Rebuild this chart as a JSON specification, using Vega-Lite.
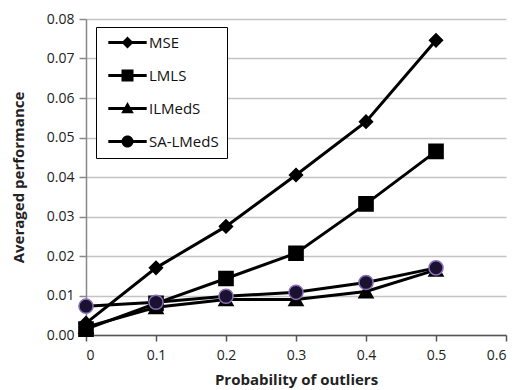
{
  "$schema": "https://vega.github.io/schema/vega-lite/v6.json",
  "width": 420,
  "height": 316,
  "autosize": {"type": "none"},
  "padding": {"left": 86, "top": 19, "right": 16, "bottom": 55},
  "background": "white",
  "config": {
    "font": "Open Sans",
    "view": {"stroke": null},
    "axis": {"labelFont": "Open Sans", "titleFont": "Open Sans", "labelFontSize": 14, "titleFontSize": 15, "titleFontWeight": "bold", "labelColor": "#222", "titleColor": "#222"}
  },
  "data": {
    "values": [
      {"p": 0, "v": 0.003, "s": "MSE"},
      {"p": 0.1, "v": 0.017, "s": "MSE"},
      {"p": 0.2, "v": 0.0275, "s": "MSE"},
      {"p": 0.3, "v": 0.0405, "s": "MSE"},
      {"p": 0.4, "v": 0.054, "s": "MSE"},
      {"p": 0.5, "v": 0.0746, "s": "MSE"},
      {"p": 0, "v": 0.0015, "s": "LMLS"},
      {"p": 0.1, "v": 0.008, "s": "LMLS"},
      {"p": 0.2, "v": 0.0143, "s": "LMLS"},
      {"p": 0.3, "v": 0.0207, "s": "LMLS"},
      {"p": 0.4, "v": 0.0332, "s": "LMLS"},
      {"p": 0.5, "v": 0.0465, "s": "LMLS"},
      {"p": 0, "v": 0.002, "s": "ILMedS"},
      {"p": 0.1, "v": 0.007, "s": "ILMedS"},
      {"p": 0.2, "v": 0.009, "s": "ILMedS"},
      {"p": 0.3, "v": 0.009, "s": "ILMedS"},
      {"p": 0.4, "v": 0.011, "s": "ILMedS"},
      {"p": 0.5, "v": 0.0165, "s": "ILMedS"},
      {"p": 0, "v": 0.0073, "s": "SA-LMedS"},
      {"p": 0.1, "v": 0.0083, "s": "SA-LMedS"},
      {"p": 0.2, "v": 0.0098, "s": "SA-LMedS"},
      {"p": 0.3, "v": 0.0108, "s": "SA-LMedS"},
      {"p": 0.4, "v": 0.0133, "s": "SA-LMedS"},
      {"p": 0.5, "v": 0.017, "s": "SA-LMedS"}
    ]
  },
  "encoding": {
    "x": {
      "field": "p", "type": "quantitative",
      "scale": {"domain": [0, 0.6], "nice": false},
      "axis": {"title": "Probability of outliers", "values": [0, 0.1, 0.2, 0.3, 0.4, 0.5, 0.6], "format": "~g", "grid": false, "domainColor": "#555", "domainWidth": 1.5, "tickColor": "#555", "tickSize": 6, "tickWidth": 1.5, "labelPadding": 7, "titlePadding": 10}
    },
    "y": {
      "field": "v", "type": "quantitative",
      "scale": {"domain": [0, 0.08], "nice": false},
      "axis": {"title": "Averaged performance", "values": [0, 0.01, 0.02, 0.03, 0.04, 0.05, 0.06, 0.07, 0.08], "format": ".2f", "grid": true, "gridColor": "#c4c4c4", "gridWidth": 1.5, "domainColor": "#888", "domainWidth": 1.5, "tickColor": "#888", "tickSize": 7, "tickWidth": 1.5, "labelPadding": 5, "titlePadding": 20}
    }
  },
  "resolve": {"scale": {"shape": "independent"}, "legend": {"shape": "independent"}},
  "layer": [
    {
      "mark": {"type": "line", "color": "black", "strokeWidth": 3},
      "encoding": {"detail": {"field": "s"}}
    },
    {
      "mark": {"type": "point", "filled": true, "opacity": 1, "color": "black", "strokeWidth": 1.5},
      "encoding": {
        "shape": {
          "field": "s", "type": "nominal",
          "scale": {"domain": ["MSE", "LMLS", "ILMedS", "SA-LMedS"], "range": ["diamond", "square", "triangle-up", "circle"]},
          "legend": null
        },
        "size": {"condition": {"test": "datum.s === 'MSE'", "value": 170}, "value": 200},
        "fill": {"condition": {"test": "datum.s === 'SA-LMedS'", "value": "#1a1230"}, "value": "black"},
        "stroke": {"condition": {"test": "datum.s === 'SA-LMedS'", "value": "#8a6fb8"}, "value": "black"}
      }
    },
    {
      "mark": {"type": "point", "filled": true, "opacity": 0, "color": "black"},
      "encoding": {
        "shape": {
          "field": "s", "type": "nominal",
          "scale": {"domain": ["MSE", "LMLS", "ILMedS", "SA-LMedS"], "range": [
            "M-3.2,-0.25H3.2V0.25H-3.2ZM0,-1L1,0L0,1L-1,0Z",
            "M-3.2,-0.25H3.2V0.25H-3.2ZM-1,-1H1V1H-1Z",
            "M-3.2,-0.25H3.2V0.25H-3.2ZM0,-1.1L1.05,0.8H-1.05Z",
            "M-3.2,-0.25H3.2V0.25H-3.2ZM-1,0A1,1,0,1,1,1,0A1,1,0,1,1,-1,0Z"
          ]},
          "legend": {
            "title": null,
            "orient": "none",
            "legendX": 10,
            "legendY": 8,
            "padding": 8,
            "fillColor": "white",
            "strokeColor": "black",
            "symbolSize": 144,
            "symbolOffset": 16,
            "symbolOpacity": 1,
            "symbolStrokeWidth": 0,
            "symbolFillColor": "black",
            "labelOffset": 14,
            "labelFontSize": 15,
            "labelFont": "Open Sans",
            "labelColor": "#111",
            "rowPadding": 17,
            "encode": {
              "legend": {"update": {"strokeWidth": {"value": 2}}},
              "symbols": {"update": {"opacity": {"value": 1}, "fill": {"value": "black"}}}
            }
          }
        }
      }
    }
  ]
}
